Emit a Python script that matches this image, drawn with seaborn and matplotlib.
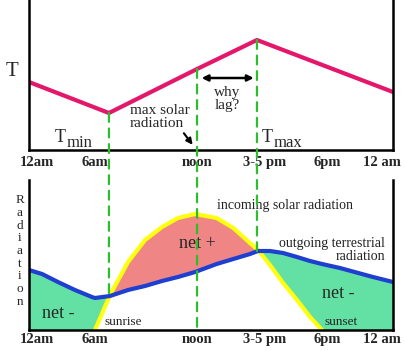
import numpy as np
import matplotlib
matplotlib.use("Agg")
import matplotlib.pyplot as plt
from matplotlib.patches import ConnectionPatch
import seaborn as sns

# time of day in hours (0 = midnight), positions
t_hours = [0, 5.27, 11.08, 15.03, 24]
temp = [68, 37, 81, 110, 58]

hours = np.array([0, 0.86, 1.91, 3.03, 4.15, 4.35, 5.34, 6.53, 7.65, 8.77,
                  9.82, 10.95, 12.37, 13.47, 14.57, 15.1, 15.89, 16.75, 17.67,
                  18.53, 19.32, 20.5, 22.68, 24])
outgoing = np.array([60, 56, 48, 40, 33, 32, 34, 40, 44, 49,
                     53, 58, 66, 71, 76, 79, 79, 77, 73,
                     69, 66, 62, 53, 48])
incoming = np.array([0, 0, 0, 0, 0, 0, 35, 68, 90, 103,
                     112, 116, 112, 102, 87, 80, 65, 47, 30,
                     13, 0, 0, 0, 0])

tick_pos = [0.53, 4.35, 11.08, 15.56, 19.65, 23.27]
tick_labels = ["12am", "6am", "noon", "3-5 pm", "6pm", "12 am"]

sns.set_style("white")
plt.rcParams["font.family"] = ["Liberation Serif", "DejaVu Serif"]

pink = "#e3186b"
blue = "#1f3fd0"
yellow = "#ffff10"
green_fill = "#63e0a3"
red_fill = "#f08585"
dash_green = "#2cbf2c"

fig = plt.figure(figsize=(4.06, 3.51), dpi=100)
ax1 = fig.add_axes([29 / 406, 201 / 351, 364 / 406, 150 / 351])
ax2 = fig.add_axes([29 / 406, 21 / 351, 364 / 406, 150 / 351])

for ax in (ax1, ax2):
    ax.set_xlim(0, 24)
    ax.set_ylim(0, 150)
    ax.set_yticks([])
    ax.set_xticks(tick_pos, tick_labels, fontweight="bold", fontsize=10.5)
    ax.tick_params(axis="x", length=0)
    ax.spines["top"].set_visible(False)
    for s in ("left", "right", "bottom"):
        ax.spines[s].set_linewidth(1.8)
        ax.spines[s].set_color("black")
    ax.patch.set_alpha(0)
ax1.tick_params(axis="x", pad=4)
ax2.tick_params(axis="x", pad=2)

# ---- top panel: temperature
sns.lineplot(x=t_hours, y=temp, ax=ax1, color=pink, linewidth=3, sort=False)
ax1.lines[-1].set_solid_joinstyle("round")
ax1.set_xlabel("")
ax1.set_ylabel("")
ax1.text(-1.1, 78, "T", fontsize=15, ha="center", va="center")
ax1.text(1.7, 13, "T", fontsize=13, ha="left", va="center")
ax1.text(2.45, 7, "min", fontsize=12, ha="left", va="center")
ax1.text(15.35, 13, "T", fontsize=13, ha="left", va="center")
ax1.text(16.1, 7, "max", fontsize=12, ha="left", va="center")
ax1.text(6.65, 33, "max solar\nradiation", fontsize=11, ha="left", va="center",
         linespacing=0.95)
ax1.text(13.05, 51, "why\nlag?", fontsize=11, ha="center", va="center",
         linespacing=0.95)
ax1.annotate("", xy=(10.9, 3), xytext=(10.1, 19),
             arrowprops=dict(arrowstyle="-|>", color="black", lw=1.5,
                             mutation_scale=9))
ax1.annotate("", xy=(15.0, 72), xytext=(11.2, 72),
             arrowprops=dict(arrowstyle="<|-|>", color="black", lw=1.8,
                             mutation_scale=9))

# ---- bottom panel: radiation
ax2.fill_between(hours, outgoing, incoming, where=incoming > outgoing,
                 interpolate=True, color=red_fill, linewidth=0)
ax2.fill_between(hours, outgoing, incoming, where=outgoing >= incoming,
                 interpolate=True, color=green_fill, linewidth=0)
day = (hours >= 4.35) & (hours <= 19.32)
sns.lineplot(x=hours[day], y=incoming[day], ax=ax2, color=yellow,
             linewidth=3, sort=False)
sns.lineplot(x=hours, y=outgoing, ax=ax2, color=blue, linewidth=3, sort=False)
ax2.set_xlabel("")
ax2.set_ylabel("")

ax2.text(-0.6, 79, "\n".join("Radiation"), fontsize=9.5, ha="center",
         va="center", linespacing=1.07, clip_on=False)
ax2.text(12.4, 124, "incoming solar radiation", fontsize=10, ha="left",
         va="center", color="#222222")
ax2.text(16.5, 86, "outgoing terrestrial", fontsize=10, ha="left",
         va="center", color="#222222")
ax2.text(23.5, 73, "radiation", fontsize=10, ha="right", va="center",
         color="#222222")
ax2.text(11.1, 86, "net +", fontsize=13, ha="center", va="center")
ax2.text(0.85, 17, "net -", fontsize=13, ha="left", va="center")
ax2.text(19.3, 37, "net -", fontsize=13, ha="left", va="center")
ax2.text(5.0, 8, "sunrise", fontsize=9.5, ha="left", va="center",
         color="#222222")
ax2.text(19.5, 8, "sunset", fontsize=9.5, ha="left", va="center",
         color="#222222")

# dashed guide lines joining the two panels
for xa, ya, yb in [(5.27, 37, 34), (11.08, 81, 0), (15.03, 110, 79)]:
    con = ConnectionPatch(xyA=(xa, ya), coordsA=ax1.transData,
                          xyB=(xa, yb), coordsB=ax2.transData,
                          color=dash_green, linewidth=1.6,
                          linestyle=(0, (4, 3)))
    fig.add_artist(con)

fig.savefig("out.png", dpi=100)
